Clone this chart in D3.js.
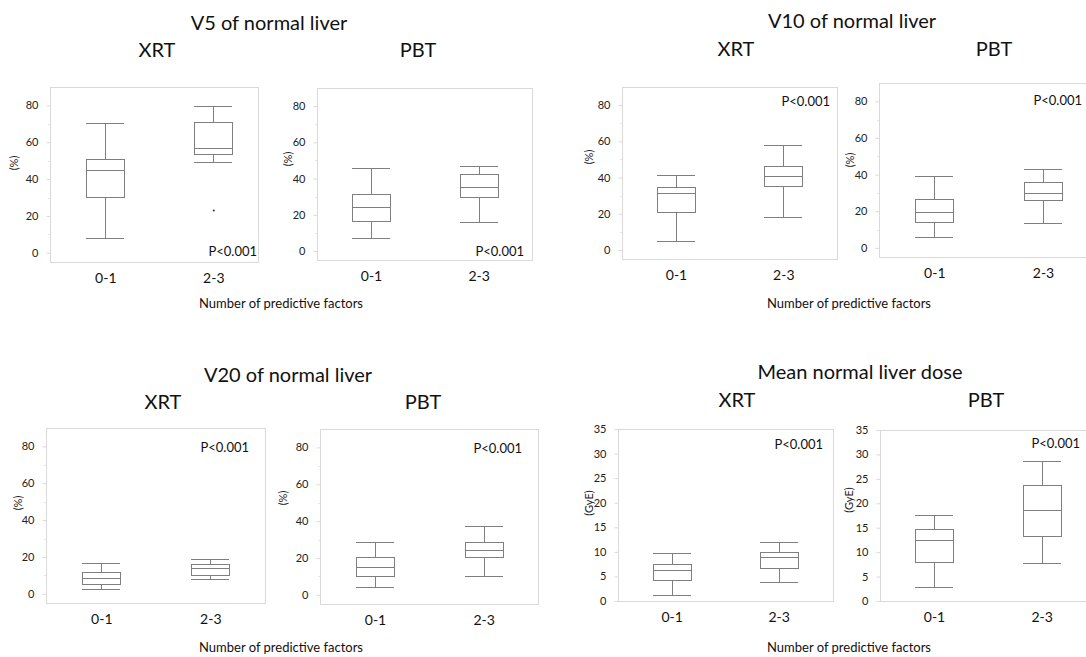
<!DOCTYPE html>
<html>
<head>
<meta charset="utf-8">
<script src="https://cdn.jsdelivr.net/npm/d3@7"></script>
<style>
	body { margin: 0; background: #fff; }
	svg { display: block; font-family: Lato, "Open Sans", sans-serif; }
</style>
</head>
<body>
<svg id="chart" width="1086" height="657"></svg>
<script>
var groups = ["0-1", "2-3"];
var pctTicks = [0, 20, 40, 60, 80];
var pctMinor = [10, 30, 50, 70];
var doseTicks = [0, 5, 10, 15, 20, 25, 30, 35];

// whisker low, q1, median, q3, whisker high -- one row per group
var v5Xrt = [[7.8, 29.9, 44.6, 50.4, 70.4], [49.0, 53.3, 56.4, 70.7, 79.4]];
var v5XrtOutliers = [[], [23]];
var v5Pbt = [[6.8, 16.3, 24.0, 31.1, 45.4], [15.9, 29.3, 35.0, 42.1, 46.9]];
var v10Xrt = [[4.6, 20.5, 31.0, 34.6, 41.0], [18.1, 34.8, 40.3, 46.3, 57.7]];
var v10Pbt = [[5.4, 13.8, 19.4, 26.3, 38.9], [13.3, 26.0, 29.6, 35.8, 42.7]];
var v20Xrt = [[2.2, 5.1, 8.2, 11.6, 16.2], [7.6, 9.8, 13.8, 16.0, 18.4]];
var v20Pbt = [[4.1, 10.1, 15.0, 20.5, 28.6], [9.8, 20.1, 23.9, 28.5, 37.2]];
var doseXrt = [[1.1, 4.2, 6.3, 7.4, 9.6], [3.8, 6.7, 8.9, 9.9, 11.9]];
var dosePbt = [[2.7, 7.9, 12.4, 14.6, 17.6], [7.6, 13.1, 18.5, 23.6, 28.5]];
var pLabel = "P<0.001";

var svg = d3.select("#chart");
var lineColor = "#7f7f7f";
var frameColor = "#d9d9d9";

var pct = { domain: [-5, 90], ticks: pctTicks, minor: pctMinor, unit: "(%)" };
var dose = { domain: [0, 35], ticks: doseTicks, minor: [], unit: "(GyE)" };

var panels = [
	{ stats: v5Xrt, outliers: v5XrtOutliers, axis: pct, f: [50, 87, 258, 262], cx: [105.3, 213.3], p: [257, 256], lab: [14, 163] },
	{ stats: v5Pbt, axis: pct, f: [317, 88, 532, 260], cx: [371, 478.7], p: [524, 256], lab: [288, 159] },
	{ stats: v10Xrt, axis: pct, f: [622, 87, 837, 259], cx: [676, 783.3], p: [830, 106], lab: [589, 157] },
	{ stats: v10Pbt, axis: pct, f: [879, 83, 1097, 257], cx: [934.3, 1043], p: [1082, 105], lab: [850, 160] },
	{ stats: v20Xrt, axis: pct, f: [46, 428, 265, 603], cx: [101.3, 210.3], p: [249, 452], lab: [18, 503] },
	{ stats: v20Pbt, axis: pct, f: [320, 429, 538, 604], cx: [375, 483.7], p: [522, 453], lab: [283, 498] },
	{ stats: doseXrt, axis: dose, f: [618, 429, 833, 601], cx: [671.7, 778.7], p: [823, 449], lab: [589, 503] },
	{ stats: dosePbt, axis: dose, f: [880, 430, 1097, 601], cx: [934, 1041.7], p: [1080, 448], lab: [849, 500] }
];

var titles = [
	{ text: "V5 of normal liver", x: 269, y: 30, size: 20 },
	{ text: "XRT", x: 157, y: 57, size: 20 },
	{ text: "PBT", x: 418, y: 57, size: 20 },
	{ text: "V10 of normal liver", x: 852, y: 28, size: 20 },
	{ text: "XRT", x: 736, y: 56, size: 20 },
	{ text: "PBT", x: 994, y: 56, size: 20 },
	{ text: "V20 of normal liver", x: 288, y: 382, size: 20 },
	{ text: "XRT", x: 163, y: 409, size: 20 },
	{ text: "PBT", x: 423, y: 409, size: 20 },
	{ text: "Mean normal liver dose", x: 860, y: 379, size: 20 },
	{ text: "XRT", x: 737, y: 407, size: 20 },
	{ text: "PBT", x: 986, y: 407, size: 20 },
	{ text: "Number of predictive factors", x: 281, y: 308, size: 13 },
	{ text: "Number of predictive factors", x: 849, y: 308, size: 13 },
	{ text: "Number of predictive factors", x: 281, y: 652, size: 13 },
	{ text: "Number of predictive factors", x: 849, y: 652, size: 13 }
];

var drawPanel = function(panel) {
	var l = panel.f[0], t = panel.f[1], r = panel.f[2], b = panel.f[3];
	var y = d3.scaleLinear().domain(panel.axis.domain).range([b, t]);
	var x = d3.scalePoint().domain(groups).range(panel.cx);
	var boxW = 38;

	var g = svg.append("g");

	g.append("rect")
		.attr("x", l + 0.5).attr("y", t + 0.5)
		.attr("width", r - l).attr("height", b - t)
		.attr("fill", "none").attr("stroke", frameColor);

	// minor ticks
	g.selectAll(".minor").data(panel.axis.minor).enter().append("line")
		.attr("x1", l - 2).attr("x2", l)
		.attr("y1", function(d) { return Math.round(y(d)) + 0.5; })
		.attr("y2", function(d) { return Math.round(y(d)) + 0.5; })
		.attr("stroke", "#e6e6e6");

	var yAxis = g.append("g")
		.attr("transform", "translate(" + (l + 0.5) + ",0)")
		.call(d3.axisLeft(y).tickValues(panel.axis.ticks).tickSize(4).tickPadding(8).tickSizeOuter(0));
	yAxis.select(".domain").remove();
	yAxis.selectAll("line").attr("stroke", frameColor);
	yAxis.selectAll("text").attr("fill", "#222").style("font-size", "11px").style("font-family", "Lato, sans-serif");

	var xAxis = g.append("g")
		.attr("transform", "translate(0," + b + ")")
		.call(d3.axisBottom(x).tickSize(0).tickPadding(11));
	xAxis.select(".domain").remove();
	xAxis.selectAll("text").attr("fill", "#111").style("font-size", "14px").style("font-family", "Lato, sans-serif");

	g.append("text")
		.attr("transform", "translate(" + panel.lab[0] + "," + panel.lab[1] + ") rotate(-90)")
		.attr("text-anchor", "middle").attr("dy", "0.35em")
		.attr("fill", "#222").style("font-size", "11px")
		.text(panel.axis.unit);

	var box = g.selectAll(".box").data(panel.stats).enter().append("g")
		.attr("transform", function(d, i) { return "translate(" + Math.round(x(groups[i])) + ",0)"; })
		.attr("stroke", lineColor).attr("fill", "none")
		.attr("shape-rendering", "crispEdges");

	box.append("line")
		.attr("x1", 0.5).attr("x2", 0.5)
		.attr("y1", function(d) { return y(d[0]); })
		.attr("y2", function(d) { return y(d[4]); });
	box.append("rect")
		.attr("x", -boxW / 2).attr("width", boxW)
		.attr("y", function(d) { return y(d[3]); })
		.attr("height", function(d) { return y(d[1]) - y(d[3]); })
		.attr("fill", "#fff");
	[0, 2, 4].forEach(function(k) {
		box.append("line")
			.attr("x1", -boxW / 2).attr("x2", boxW / 2)
			.attr("y1", function(d) { return y(d[k]); })
			.attr("y2", function(d) { return y(d[k]); });
	});

	if (panel.outliers) {
		panel.outliers.forEach(function(list, i) {
			g.selectAll(null).data(list).enter().append("circle")
				.attr("cx", x(groups[i]) + 0.5)
				.attr("cy", function(d) { return y(d); })
				.attr("r", 1)
				.attr("fill", "#333");
		});
	}

	g.append("text")
		.attr("x", panel.p[0]).attr("y", panel.p[1])
		.attr("text-anchor", "end")
		.attr("fill", "#111").style("font-size", "13px")
		.text(pLabel);
};

panels.forEach(drawPanel);

svg.selectAll(".title").data(titles).enter().append("text")
	.attr("x", function(d) { return d.x; })
	.attr("y", function(d) { return d.y; })
	.attr("text-anchor", "middle")
	.attr("fill", "#111")
	.style("font-size", function(d) { return d.size + "px"; })
	.text(function(d) { return d.text; });
</script>
</body>
</html>
